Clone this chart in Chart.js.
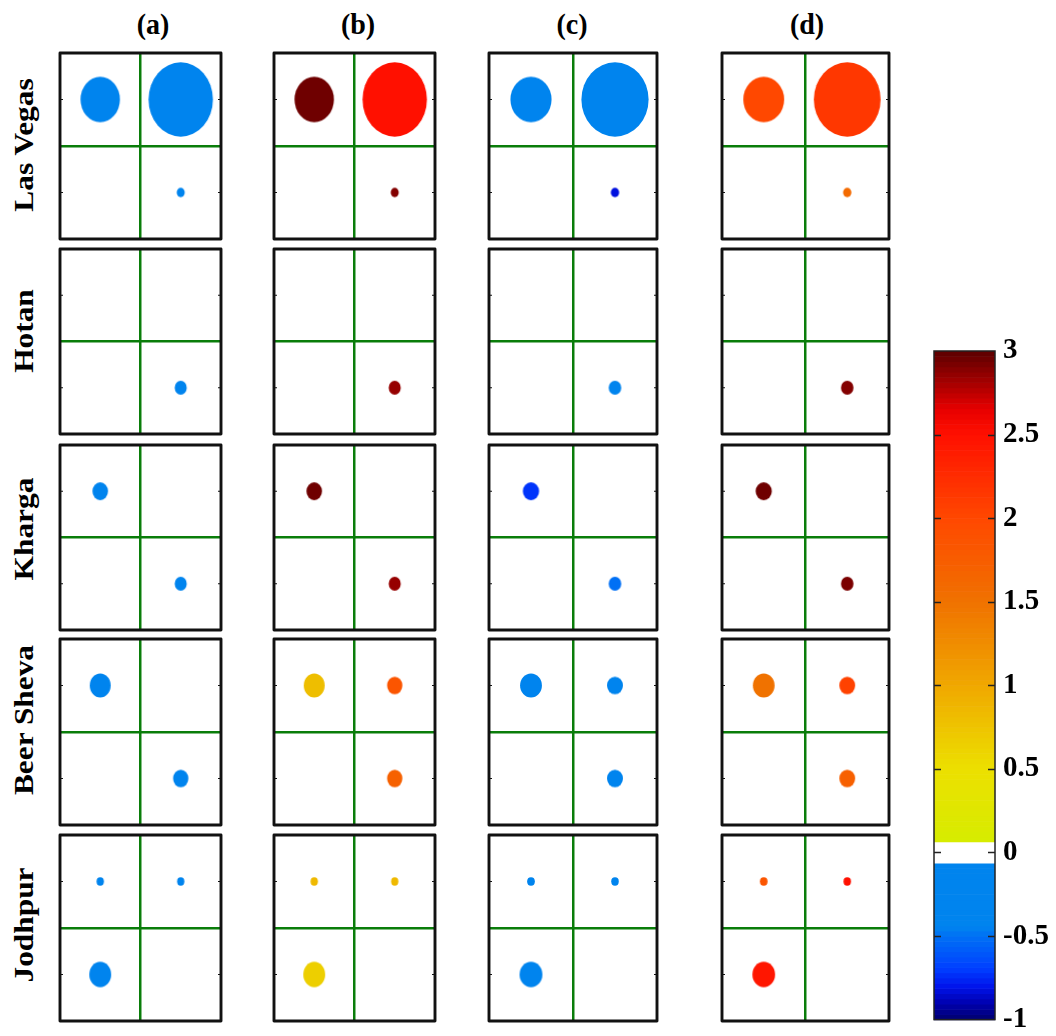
<!DOCTYPE html>
<html>
<head>
<meta charset="utf-8">
<title>Bubble quadrant panels</title>
<script src="https://cdn.jsdelivr.net/npm/chart.js@4/dist/chart.umd.min.js"></script>
<style>
  html, body { margin: 0; padding: 0; background: #fff; width: 1056px; height: 1036px; overflow: hidden; }
  #fig { position: relative; width: 1056px; height: 1036px; }
  #fig canvas { position: absolute; }
  .col-title {
    position: absolute; white-space: nowrap; color: #000;
    font: bold 28px "Liberation Serif", "Times New Roman", serif;
    transform: translate(-50%, -50%) scaleY(1.08);
  }
  .row-title {
    position: absolute; white-space: nowrap; color: #000;
    font: bold 28px "Liberation Serif", "Times New Roman", serif;
    transform: translate(-50%, -50%) rotate(-90deg) scaleX(1.12);
  }
</style>
</head>
<body>
<div id="fig"></div>
<script>
// ---- data ---------------------------------------------------------------
const sites = ['Las Vegas', 'Hotan', 'Kharga', 'Beer Sheva', 'Jodhpur'];
const panelLabels = ['(a)', '(b)', '(c)', '(d)'];

// quadrant order used by every row below: top-left, top-right, bottom-left, bottom-right
const quadrants = ['TL', 'TR', 'BL', 'BR'];
const quadrantX = [-0.5, 0.5, -0.5, 0.5];
const quadrantY = [0.5, 0.5, -0.5, -0.5];

// bubble radius (axis units) per site and quadrant; null = empty quadrant
const sizeLasVegas  = [0.245, 0.40, null, 0.05];
const sizeHotan     = [null, null, null, 0.075];
const sizeKharga    = [0.097, null, null, 0.075];
const sizeBeerSheva = [0.13, 0.095, null, 0.095];
const sizeJodhpur   = [0.046, 0.045, 0.136, null];

// colour value per panel, rows follow `sites`, columns follow `quadrants`
const valuesA = [
  [-0.25, -0.30, null, -0.20],
  [null, null, null, -0.20],
  [-0.30, null, null, -0.25],
  [-0.20, null, null, -0.30],
  [-0.30, -0.20, -0.25, null]
];
const valuesB = [
  [2.95, 2.50, null, 2.90],
  [null, null, null, 2.85],
  [2.95, null, null, 2.85],
  [0.80, 1.85, null, 1.70],
  [0.85, 0.85, 0.65, null]
];
const valuesC = [
  [-0.30, -0.30, null, -0.82],
  [null, null, null, -0.30],
  [-0.72, null, null, -0.50],
  [-0.25, -0.30, null, -0.30],
  [-0.30, -0.25, -0.30, null]
];
const valuesD = [
  [2.00, 2.15, null, 1.60],
  [null, null, null, 2.90],
  [2.95, null, null, 2.92],
  [1.50, 2.05, null, 1.72],
  [1.85, 2.50, 2.45, null]
];

const panelTicks = [-0.5, 0.5];
const colorbarTicks = [-1, -0.5, 0, 0.5, 1, 1.5, 2, 2.5, 3];

// ---- colour map ---------------------------------------------------------
const cmapStops = [
  [-1.00,   0,   0, 110],
  [-0.90,   0,   0, 175],
  [-0.80,   0,  20, 235],
  [-0.70,   0,  60, 255],
  [-0.60,   0,  88, 250],
  [-0.50,   0, 112, 245],
  [-0.44,   0, 132, 238],
  [-0.06,   0, 132, 238],
  [ 0.06, 214, 236,   0],
  [ 0.50, 236, 224,   0],
  [ 1.00, 240, 168,   0],
  [ 1.50, 240, 114,   0],
  [ 2.00, 255,  72,   0],
  [ 2.50, 255,  16,   0],
  [ 2.65, 232,   0,   0],
  [ 2.80, 170,   0,   0],
  [ 3.00,  92,   0,   0]
];
const gapHalf = 0.06;

function colormap(v) {
  if (Math.abs(v) < gapHalf) return '#ffffff';
  if (v <= cmapStops[0][0]) { const s = cmapStops[0]; return `rgb(${s[1]},${s[2]},${s[3]})`; }
  for (let i = 1; i < cmapStops.length; i++) {
    const a = cmapStops[i - 1], b = cmapStops[i];
    if (v <= b[0]) {
      const t = (v - a[0]) / (b[0] - a[0]);
      const c = [1, 2, 3].map(k => Math.round(a[k] + (b[k] - a[k]) * t));
      return `rgb(${c[0]},${c[1]},${c[2]})`;
    }
  }
  const s = cmapStops[cmapStops.length - 1];
  return `rgb(${s[1]},${s[2]},${s[3]})`;
}

// ---- layout -------------------------------------------------------------
const colLeft  = [60, 274, 489, 722];
const colRight = [221, 435, 657, 889];
const rowTop    = [53, 249, 445, 639, 835];
const rowBottom = [239, 434, 630, 825, 1021];
const titleCenterX = [153, 358, 572, 807];
const siteLabelY = [145, 331, 529, 720, 925];
const PAD = 4;

const fig = document.getElementById('fig');

function addCanvas(left, top, width, height) {
  const c = document.createElement('canvas');
  c.width = width; c.height = height;
  c.style.left = left + 'px'; c.style.top = top + 'px';
  c.style.width = width + 'px'; c.style.height = height + 'px';
  fig.appendChild(c);
  return c;
}

// pixel half-axes of a bubble whose radius is given in axis units
function bubbleRadii(ctx) {
  const raw = ctx.raw;
  if (!raw) return {rx: 2, ry: 2};
  const xs = ctx.chart.scales.x, ys = ctx.chart.scales.y;
  return {
    rx: Math.abs(xs.getPixelForValue(raw.s) - xs.getPixelForValue(0)),
    ry: Math.abs(ys.getPixelForValue(raw.s) - ys.getPixelForValue(0))
  };
}

// bubbles follow the axes' own aspect, so they come out as ellipses
function ellipseStyle(ctx) {
  const raw = ctx.raw;
  if (!raw) return 'circle';
  const {rx, ry} = bubbleRadii(ctx);
  const w = Math.ceil(2 * rx) + 2, h = Math.ceil(2 * ry) + 2;
  const c = document.createElement('canvas');
  c.width = w; c.height = h;
  const g = c.getContext('2d');
  g.fillStyle = colormap(raw.v);
  g.beginPath();
  g.ellipse(w / 2, h / 2, rx, ry, 0, 0, Math.PI * 2);
  g.fill();
  return c;
}

const panelFrame = {
  id: 'panelFrame',
  afterDraw(chart) {
    const {ctx, chartArea: a, scales: {y}} = chart;
    ctx.save();
    ctx.strokeStyle = '#111';
    ctx.lineJoin = 'round';
    ctx.lineWidth = 2.9;
    ctx.strokeRect(a.left, a.top, a.right - a.left, a.bottom - a.top);
    ctx.lineWidth = 1.2;
    panelTicks.forEach(v => {
      const py = y.getPixelForValue(v);
      ctx.beginPath();
      ctx.moveTo(a.left, py); ctx.lineTo(a.left + 3, py);
      ctx.moveTo(a.right, py); ctx.lineTo(a.right - 3, py);
      ctx.stroke();
    });
    ctx.restore();
  }
};

const crossColor = ctx => (ctx.tick && ctx.tick.value === 0) ? '#0a7d0a' : 'rgba(0,0,0,0)';

function axisOptions() {
  return {
    type: 'linear', min: -1, max: 1,
    ticks: {display: false, stepSize: 1},
    grid: {drawTicks: false, color: crossColor, lineWidth: 2.5},
    border: {display: false}
  };
}

function makePanel(col, row, points) {
  const x0 = colLeft[col], x1 = colRight[col], y0 = rowTop[row], y1 = rowBottom[row];
  const canvas = addCanvas(x0 - PAD, y0 - PAD, x1 - x0 + 2 * PAD, y1 - y0 + 2 * PAD);
  new Chart(canvas, {
    type: 'bubble',
    data: {
      datasets: [{
        data: points,
        pointStyle: ellipseStyle,
        radius: ctx => Math.max(bubbleRadii(ctx).rx, 0.5),
        backgroundColor: ctx => ctx.raw ? colormap(ctx.raw.v) : '#000',
        borderWidth: 0,
        clip: false
      }]
    },
    options: {
      responsive: false,
      animation: false,
      events: [],
      layout: {padding: PAD},
      plugins: {legend: {display: false}, tooltip: {enabled: false}},
      scales: {x: axisOptions(), y: axisOptions()}
    },
    plugins: [panelFrame]
  });
}

const sizes = [sizeLasVegas, sizeHotan, sizeKharga, sizeBeerSheva, sizeJodhpur];
const panelValues = [valuesA, valuesB, valuesC, valuesD];

panelValues.forEach((vals, col) => {
  sites.forEach((site, row) => {
    const points = [];
    quadrants.forEach((q, k) => {
      const v = vals[row][k], s = sizes[row][k];
      if (v === null || s === null) return;
      points.push({x: quadrantX[k], y: quadrantY[k], s: s, v: v});
    });
    makePanel(col, row, points);
  });
});

// column and row headings
panelLabels.forEach((t, i) => {
  const d = document.createElement('div');
  d.className = 'col-title';
  d.textContent = t;
  d.style.left = titleCenterX[i] + 'px';
  d.style.top = '24px';
  fig.appendChild(d);
});
sites.forEach((t, i) => {
  const d = document.createElement('div');
  d.className = 'row-title';
  d.textContent = t;
  d.style.left = '24px';
  d.style.top = siteLabelY[i] + 'px';
  fig.appendChild(d);
});

// ---- colour bar ---------------------------------------------------------
const colorbarPaint = {
  id: 'colorbarPaint',
  beforeDatasetsDraw(chart) {
    const {ctx, chartArea: a, scales: {y}} = chart;
    const lo = y.min, hi = y.max, n = 128, step = (hi - lo) / n;
    ctx.save();
    for (let i = 0; i < n; i++) {
      const v0 = lo + i * step, v1 = v0 + step;
      const p0 = y.getPixelForValue(v0), p1 = y.getPixelForValue(v1);
      ctx.fillStyle = colormap((v0 + v1) / 2);
      ctx.fillRect(a.left, p1, a.right - a.left, p0 - p1 + 0.6);
    }
    const g0 = y.getPixelForValue(-gapHalf), g1 = y.getPixelForValue(gapHalf);
    ctx.fillStyle = '#fff';
    ctx.fillRect(a.left, g1, a.right - a.left, g0 - g1);
    ctx.restore();
  },
  afterDraw(chart) {
    const {ctx, chartArea: a, scales: {y}} = chart;
    ctx.save();
    ctx.strokeStyle = '#222';
    ctx.lineWidth = 1.5;
    ctx.strokeRect(a.left, a.top, a.right - a.left, a.bottom - a.top);
    ctx.lineWidth = 1.4;
    colorbarTicks.forEach(v => {
      if (v <= y.min || v >= y.max) return;
      const py = Math.round(y.getPixelForValue(v)) + 0.5;
      ctx.beginPath();
      ctx.moveTo(a.left, py); ctx.lineTo(a.left + 7, py);
      ctx.moveTo(a.right, py); ctx.lineTo(a.right - 7, py);
      ctx.stroke();
    });
    ctx.restore();
  }
};

const cbCanvas = addCanvas(920, 325, 136, 720);
new Chart(cbCanvas, {
  type: 'scatter',
  data: {datasets: []},
  options: {
    responsive: false,
    animation: false,
    events: [],
    layout: {padding: {left: 14, top: 26, bottom: 23, right: 0}},
    plugins: {legend: {display: false}, tooltip: {enabled: false}},
    scales: {
      x: {type: 'linear', display: false, min: 0, max: 1},
      y: {
        type: 'linear', position: 'right', min: -1, max: 3,
        afterBuildTicks: scale => { scale.ticks = colorbarTicks.map(v => ({value: v})); },
        afterFit: scale => { scale.width = 61; },
        grid: {display: false, drawTicks: false},
        border: {display: false},
        ticks: {
          padding: 8,
          color: '#000',
          font: {family: '"Liberation Serif", "Times New Roman", serif', weight: 'bold', size: 29},
          callback: v => String(v)
        }
      }
    }
  },
  plugins: [colorbarPaint]
});
</script>
</body>
</html>
